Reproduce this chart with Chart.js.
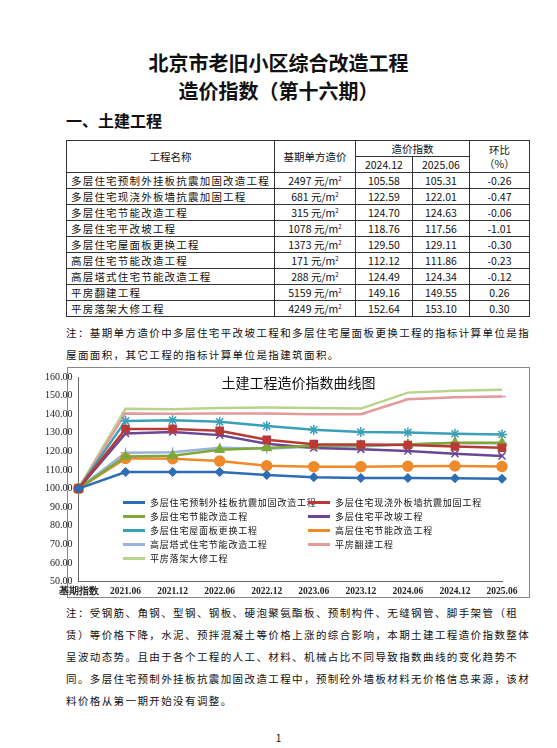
<!DOCTYPE html>
<html><head><meta charset="utf-8">
<script src="https://cdn.jsdelivr.net/npm/chart.js@4"></script>
<style>
body{margin:0;background:#fff;font-family:"Noto Sans CJK SC",sans-serif;color:#111;}
.abs{position:absolute;}
#t1,#t2{left:0;width:557px;text-align:center;font-weight:bold;font-size:20px;}
table{border-collapse:collapse;font-size:10.5px;}
td{border:1px solid #333;padding:0 4px;height:15px;line-height:15px;text-align:center;white-space:nowrap;}
td.l{text-align:left;letter-spacing:1.2px;}
.note{font-size:10.5px;line-height:22px;left:66px;width:470px;letter-spacing:1.4px;}
.lg{font-size:9px;display:flex;align-items:center;white-space:nowrap;letter-spacing:0.8px;}
.lg span.s{display:inline-block;width:22px;height:2.5px;margin-right:5px;position:relative;}
</style></head><body>
<div class="abs" id="t1" style="top:48px">北京市老旧小区综合改造工程</div>
<div class="abs" id="t2" style="top:76px">造价指数（第十六期）</div>
<div class="abs" style="left:66px;top:108px;font-weight:bold;font-size:16px">一、土建工程</div>
<table class="abs" id="tb" style="left:66px;top:140px;width:464px"></table>
<div class="abs note" style="top:322px">注：基期单方造价中多层住宅平改坡工程和多层住宅屋面板更换工程的指标计算单位是指屋面面积，其它工程的指标计算单位是指建筑面积。</div>
<div class="abs" style="left:67px;top:367px;width:463px;height:231px;border:1px solid #888;box-sizing:border-box"></div>
<div class="abs" style="left:42px;top:368px;width:488px;height:230px"><canvas id="c"></canvas></div>
<div class="abs" style="left:67px;top:372px;width:463px;text-align:center;font-size:14px">土建工程造价指数曲线图</div>
<div class="abs" id="lg" style="left:0;top:0"></div>
<div class="abs note" style="top:602px">注：受钢筋、角钢、型钢、钢板、硬泡聚氨酯板、预制构件、无缝钢管、脚手架管（租赁）等价格下降，水泥、预拌混凝土等价格上涨的综合影响，本期土建工程造价指数整体呈波动态势。且由于各个工程的人工、材料、机械占比不同导致指数曲线的变化趋势不同。多层住宅预制外挂板抗震加固改造工程中，预制砼外墙板材料无价格信息来源，该材料价格从第一期开始没有调整。</div>
<div class="abs" style="left:0;width:557px;top:730px;text-align:center;font-size:10px">1</div>
<script>
const projects=["多层住宅预制外挂板抗震加固改造工程","多层住宅现浇外板墙抗震加固工程","多层住宅节能改造工程","多层住宅平改坡工程","多层住宅屋面板更换工程","高层住宅节能改造工程","高层塔式住宅节能改造工程","平房翻建工程","平房落架大修工程"];
const basePrice=["2497","681","315","1078","1373","171","288","5159","4249"];
const idx202412=["105.58","122.59","124.70","118.76","129.50","112.12","124.49","149.16","152.64"];
const idx202506=["105.31","122.01","124.63","117.56","129.11","111.86","124.34","149.55","153.10"];
const ratio=["-0.26","-0.47","-0.06","-1.01","-0.30","-0.23","-0.12","0.26","0.30"];
const periods=["基期指数","2021.06","2021.12","2022.06","2022.12","2023.06","2023.12","2024.06","2024.12","2025.06"];
const legendNames=["多层住宅预制外挂板抗震加固改造工程","多层住宅现浇外板墙抗震加固工程","多层住宅节能改造工程","多层住宅平改坡工程","多层住宅屋面板更换工程","高层住宅节能改造工程","高层塔式住宅节能改造工程","平房翻建工程","平房落架大修工程"];
const s1=[100,108.9,108.9,108.9,107.3,106.1,105.7,105.7,105.58,105.31];
const s2=[100,132.0,132.1,131.1,126.3,123.9,123.75,123.4,122.59,122.01];
const s3=[100,117.3,117.7,120.9,121.8,123.0,123.2,123.75,124.70,124.63];
const s4=[100,129.6,130.4,128.75,124.1,121.8,121.1,120.2,118.76,117.56];
const s5=[100,136.4,136.8,135.9,133.6,131.6,130.4,130.2,129.50,129.11];
const s6=[100,116.25,116.1,114.8,112.3,111.8,111.8,112.0,112.12,111.86];
const s7=[100,119.3,119.5,122.0,121.4,122.7,122.7,123.9,124.49,124.34];
const s8=[100,140.4,140.2,140.4,140.4,140.0,140.0,148.0,149.16,149.55];
const s9=[100,142.9,142.7,143.4,143.6,143.4,143.0,151.6,152.64,153.10];
const yTicks=[50,60,70,80,90,100,110,120,130,140,150,160];

let h='<tr><td rowspan="2" style="height:30px">工程名称</td><td rowspan="2">基期单方造价</td><td colspan="2">造价指数</td><td rowspan="2" style="line-height:14px">环比<br>（%）</td></tr><tr><td>2024.12</td><td>2025.06</td></tr>';
projects.forEach((p,i)=>{h+=`<tr><td class="l" style="width:194px">${p}</td><td style="width:72px">${basePrice[i]} 元/m<sup style="font-size:6px;line-height:0">2</sup></td><td style="width:48px">${idx202412[i]}</td><td style="width:48px">${idx202506[i]}</td><td>${ratio[i]}</td></tr>`;});
document.getElementById('tb').innerHTML=h;

const series=[s1,s2,s3,s4,s5,s6,s7,s8,s9];
const colors=["#2e6db4","#b83a37","#7fa83a","#6a4795","#3aa0b8","#ee8a2a","#9ab3dc","#e29a9a","#b8d48a"];
const styles=["rectRot","rect","triangle","crossRot","star","circle","cross","line","line"];
const radii=[4,5,5,5,5,5,5,4,0];
const ds=series.map((d,i)=>({label:legendNames[i],data:d,borderColor:colors[i],backgroundColor:colors[i],pointStyle:styles[i],pointRadius:radii[i],pointBorderWidth:1.5,borderWidth:2.5,tension:0}));
new Chart(document.getElementById('c'),{type:'line',data:{labels:periods,datasets:ds},
options:{responsive:true,maintainAspectRatio:false,animation:false,
layout:{padding:{left:0,right:28,top:0,bottom:0}},
plugins:{legend:{display:false},tooltip:{enabled:false}},
scales:{
y:{min:50,max:160,afterBuildTicks:a=>{a.ticks=yTicks.map(v=>({value:v}))},grid:{display:false,drawTicks:true,tickLength:3},border:{color:'#666'},
ticks:{color:'#222',font:{size:10,family:'Liberation Serif'},callback:v=>v.toFixed(2)}},
x:{grid:{display:false,drawTicks:true,tickLength:3},border:{color:'#666'},offset:false,
ticks:{color:'#222',maxRotation:0,autoSkip:false,padding:1,font:{size:9.5,weight:'bold',family:'Liberation Serif'}}}}}});

const pos=[[123,502],[308,502],[123,516],[308,516],[123,530],[308,530],[123,544],[308,544],[123,558]];
let lg='';
legendNames.forEach((n,i)=>{lg+=`<div class="abs lg" style="left:${pos[i][0]}px;top:${pos[i][1]-6}px"><span class="s" style="background:${colors[i]}"></span>${n}</div>`;});
document.getElementById('lg').innerHTML=lg;
</script></body></html>
